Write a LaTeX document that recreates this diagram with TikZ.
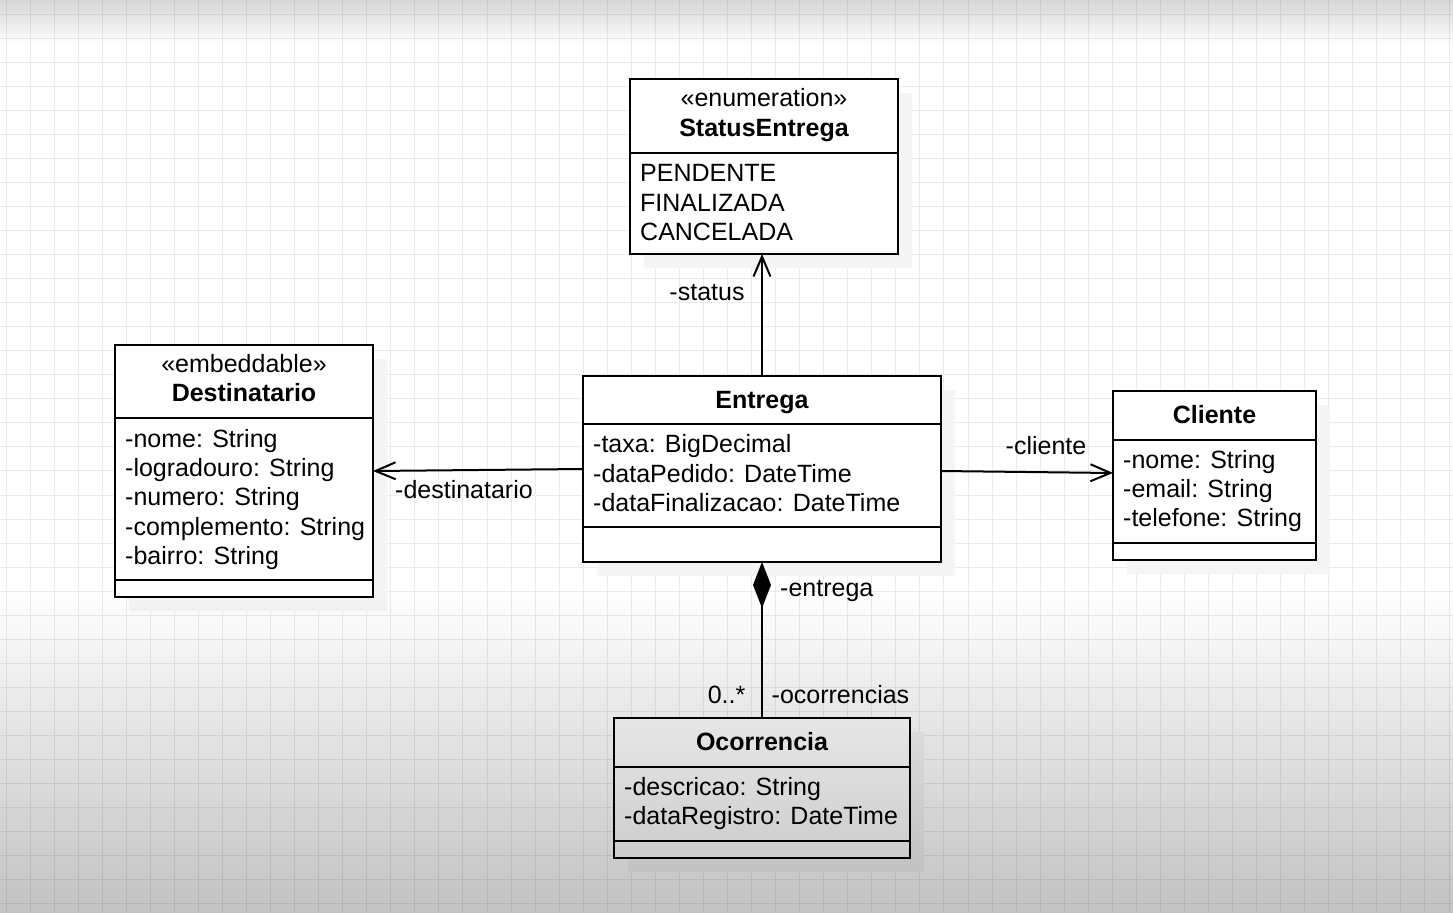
\documentclass[tikz,border=0pt]{standalone}
\usepackage{fontspec}
\setmainfont{Liberation Sans}
\usetikzlibrary{arrows.meta,fadings,calc}
\tikzfading[name=fadebot, top color=transparent!100, bottom color=transparent!76]
\tikzfading[name=fadetop, top color=transparent!84, bottom color=transparent!100]
\begin{document}
\begin{tikzpicture}[x=1pt,y=-1pt,
  gridline/.style={draw=black!8, line width=1pt},
  umlbox/.style={draw=black, line width=2.4pt, fill=white, inner sep=0pt, outer sep=0pt, anchor=north west},
  boxshadow/.style={fill=black!4, draw=none},
  sep/.style={line width=2.2pt},
  txt/.style={inner sep=0pt, font=\fontsize{25}{29.3}\selectfont},
  ttl/.style={inner sep=0pt, font=\fontsize{25}{29.3}\selectfont\bfseries, anchor=base},
  stereo/.style={txt, anchor=base},
  attr/.style={txt, anchor=base west},
  conn/.style={line width=2pt},
  openarrow/.style={-{Straight Barb[length=20pt,width=17pt,line width=2pt]}},
]
\useasboundingbox (0,0) rectangle (1453,913);
\fill[white] (0,0) rectangle (1453,913);
% grid
\foreach \i in {0,...,60} \draw[gridline] (6+24.05*\i,0) -- ++(0,913);
\foreach \j in {0,...,37} \draw[gridline] (0,14+24.05*\j) -- ++(1453,0);

% shadows
\fill[boxshadow] (644,93) rectangle (912,268);
\fill[boxshadow] (597,390) rectangle (955,576);
\fill[boxshadow] (129,359) rectangle (387,611);
\fill[boxshadow] (1127,405) rectangle (1330,574);
\fill[boxshadow] (628,732) rectangle (924,872);

% StatusEntrega
\node[umlbox, minimum width=268pt, minimum height=175pt] (status) at (630,79) {};
\draw[sep] (630,153) -- (898,153);
\node[stereo] (statusst) at (764,106) {«enumeration»};
\node[ttl] (statusname) at (764,136.7) {StatusEntrega};
\node[attr] (s1) at (640,181.7) {PENDENTE};
\node[attr] (s2) at (640,211) {FINALIZADA};
\node[attr] (s3) at (640,240.3) {CANCELADA};

% Entrega
\node[umlbox, minimum width=358pt, minimum height=186pt] (entrega) at (583,376) {};
\draw[sep] (583,424) -- (941,424);
\draw[sep] (583,527) -- (941,527);
\node[ttl] (entreganame) at (762,408) {Entrega};
\node[attr] (e1) at (593,452.7) {-taxa: BigDecimal};
\node[attr] (e2) at (593,482) {-dataPedido: DateTime};
\node[attr] (e3) at (593,511.3) {-dataFinalizacao: DateTime};

% Destinatario
\node[umlbox, minimum width=258pt, minimum height=252pt] (destin) at (115,345) {};
\draw[sep] (115,418) -- (373,418);
\draw[sep] (115,580) -- (373,580);
\node[stereo] (destst) at (244,372.7) {«embeddable»};
\node[ttl] (destname) at (244,401.7) {Destinatario};
\node[attr] (d1) at (125,447.3) {-nome: String};
\node[attr] (d2) at (125,476.6) {-logradouro: String};
\node[attr] (d3) at (125,505.9) {-numero: String};
\node[attr] (d4) at (125,535.2) {-complemento: String};
\node[attr] (d5) at (125,564.3) {-bairro: String};

% Cliente
\node[umlbox, minimum width=203pt, minimum height=169pt] (cliente) at (1113,391) {};
\draw[sep] (1113,440) -- (1316,440);
\draw[sep] (1113,543) -- (1316,543);
\node[ttl] (cliname) at (1214.5,423) {Cliente};
\node[attr] (c1) at (1123,468.3) {-nome: String};
\node[attr] (c2) at (1123,497.5) {-email: String};
\node[attr] (c3) at (1123,526.7) {-telefone: String};

% Ocorrencia
\node[umlbox, minimum width=296pt, minimum height=140pt] (ocorr) at (614,718) {};
\draw[sep] (614,767) -- (910,767);
\draw[sep] (614,841) -- (910,841);
\node[ttl] (ocname) at (762,750.7) {Ocorrencia};
\node[attr] (o1) at (624,795.3) {-descricao: String};
\node[attr] (o2) at (624,824.6) {-dataRegistro: DateTime};

% connectors
\draw[conn, openarrow] (entrega.north) -- (entrega.north |- status.south);
\draw[conn, openarrow] (entrega.west) -- (destin.east);
\draw[conn, openarrow] ($(entrega.east)+(0,2)$) -- ($(cliente.west)+(0,-2.5)$);
\draw[conn, {Diamond[length=46pt,width=18pt]}-] (entrega.south) -- (ocorr.north);

% labels
\node[txt, anchor=base] (lstatus) at (707,300) {-status};
\node[txt, anchor=base] (ldest) at (464,498.3) {-destinatario};
\node[txt, anchor=base] (lcli) at (1046,454) {-cliente};
\node[txt, anchor=base west] (lent) at (780,596.7) {-entrega};
\node[txt, anchor=base east] (lmult) at (745.5,703.3) {0..*};
\node[txt, anchor=base west] (locc) at (771.5,703.3) {-ocorrencias};

% screen fades
\fill[black, path fading=fadebot] (0,590) rectangle (1453,913);
\fill[black, path fading=fadetop] (0,0) rectangle (1453,45);
\end{tikzpicture}
\end{document}
